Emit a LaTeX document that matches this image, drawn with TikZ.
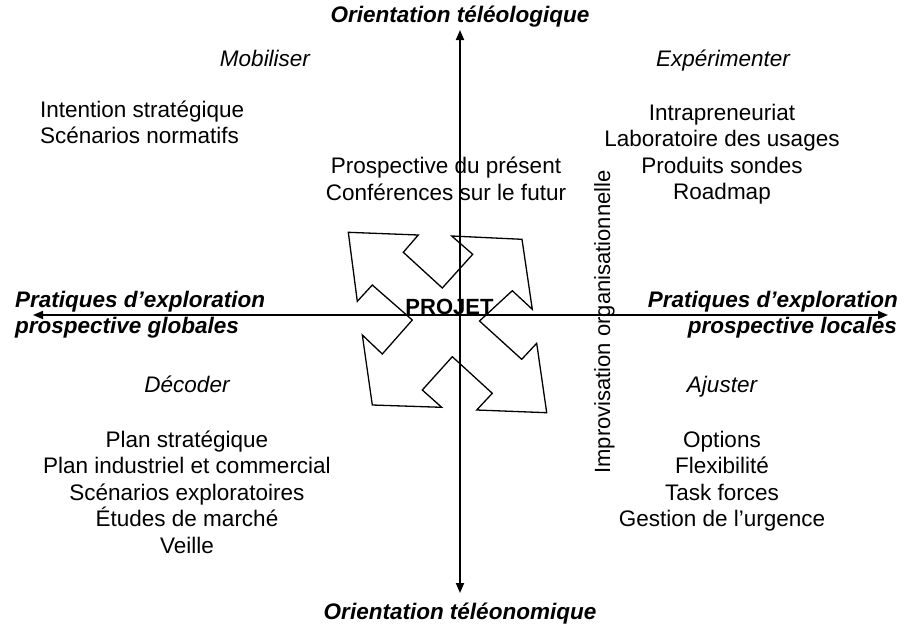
\documentclass[tikz,border=0pt]{standalone}
\usepackage{fontspec}
\setmainfont{Liberation Sans}
\usetikzlibrary{arrows.meta}
\tikzset{
  txt/.style={font=\fontsize{22.5}{26}\selectfont, inner sep=0pt, anchor=base},
  cat/.style={txt, font=\fontsize{22.5}{26}\selectfont\itshape},
  ttl/.style={txt, font=\fontsize{22.5}{26}\selectfont\bfseries\itshape},
  proj/.style={txt, font=\fontsize{22}{26}\selectfont\bfseries},
  vlab/.style={txt, font=\fontsize{22}{26}\selectfont, rotate=90},
  axisline/.style={line width=1.8pt, -{Triangle[length=10pt,width=8pt]}},
  fourarrows/.style={line width=1.3pt, line join=miter}
}
\begin{document}
\begin{tikzpicture}[x=1pt,y=-1pt]
\useasboundingbox (0,0) rectangle (906,630);
% axes
\coordinate (c) at (460,315);
\coordinate (top) at (460,30);
\coordinate (bot) at (460,593);
\coordinate (lft) at (33,315);
\coordinate (rgt) at (888,315);
\draw[axisline] (c) -- (top);
\draw[axisline] (c) -- (bot);
\draw[axisline] (c) -- (lft);
\draw[axisline] (c) -- (rgt);
% four-arrow shape
\draw[fourarrows] (348.3,232.3) -- (418.3,235) -- (403.3,252.3) -- (442.3,288)
  -- (472.7,254.3) -- (451.7,236) -- (522,239.3) -- (532.3,309.3) -- (512.3,290.7)
  -- (479.5,321) -- (521.7,359.3) -- (536.7,343.3) -- (546.7,412.7) -- (476.7,410)
  -- (492.3,393.3) -- (452.3,356.7) -- (422.3,390) -- (441.7,407.3) -- (372.3,405)
  -- (362.3,335) -- (382.3,354) -- (412.3,320) -- (372.3,285) -- (357.3,301.3) -- cycle;
\node[proj] (projet) at (449.5,314) {PROJET};
% axis titles
\node[ttl] (tnord) at (460,22) {Orientation téléologique};
\node[ttl] (tsud) at (460,619) {Orientation téléonomique};
\node[ttl, anchor=base west] (touest1) at (15,307) {Pratiques d’exploration};
\node[ttl, anchor=base west] (touest2) at (15,333) {prospective globales};
\node[ttl, anchor=base east] (test1) at (898,307) {Pratiques d’exploration};
\node[ttl, anchor=base east] (test2) at (897,333) {prospective locales};
% rotated label
\node[vlab] (impro) at (610,322) {Improvisation organisationnelle};
% upper left
\node[cat] (mob) at (265,66) {Mobiliser};
\node[txt, anchor=base west] (mob1) at (40,117) {Intention stratégique};
\node[txt, anchor=base west] (mob2) at (40,143.5) {Scénarios normatifs};
% centre top
\node[txt] (pp1) at (446,173) {Prospective du présent};
\node[txt] (pp2) at (446,200) {Conférences sur le futur};
% upper right
\node[cat] (exp) at (723,66) {Expérimenter};
\node[txt] (exp1) at (722,120) {Intrapreneuriat};
\node[txt] (exp2) at (722,146.5) {Laboratoire des usages};
\node[txt] (exp3) at (722,173) {Produits sondes};
\node[txt] (exp4) at (722,199.5) {Roadmap};
% lower left
\node[cat] (dec) at (187,392) {Décoder};
\node[txt] (dec1) at (187,447) {Plan stratégique};
\node[txt] (dec2) at (187,473.5) {Plan industriel et commercial};
\node[txt] (dec3) at (187,500) {Scénarios exploratoires};
\node[txt] (dec4) at (187,526.5) {Études de marché};
\node[txt] (dec5) at (187,553) {Veille};
% lower right
\node[cat] (aju) at (722,392) {Ajuster};
\node[txt] (aju1) at (722,447) {Options};
\node[txt] (aju2) at (722,473.5) {Flexibilité};
\node[txt] (aju3) at (722,500) {Task forces};
\node[txt] (aju4) at (722,526.5) {Gestion de l’urgence};
\end{tikzpicture}
\end{document}
